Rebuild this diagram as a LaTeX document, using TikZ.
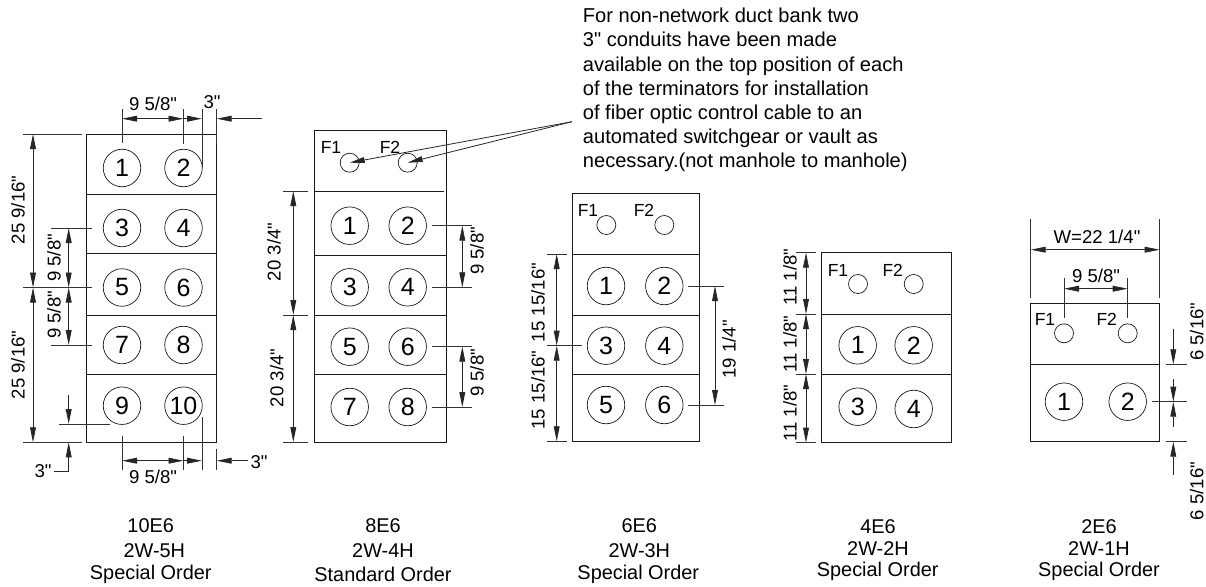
\documentclass[tikz,border=0pt]{standalone}
\usepackage{fontspec}
\newfontfamily\drawfont{Liberation Sans}
\usetikzlibrary{arrows.meta}
\tikzset{
  >={Stealth[length=15pt,width=5.8pt,inset=0pt]},
  box/.style={line width=0.9pt, black!90},
  dim/.style={line width=0.8pt, black!85},
  ext/.style={line width=0.8pt, black!80},
  dimtext/.style={inner sep=0pt, font=\drawfont\fontsize{18.6}{18.6}\selectfont},
  capt/.style={inner sep=0pt, font=\drawfont\fontsize{19.9}{19.9}\selectfont},
  ftext/.style={inner sep=0pt, font=\drawfont\fontsize{17.5}{17.5}\selectfont},
  duct/.style={circle, draw, line width=0.7pt, black!90, text=black, minimum size=37.5pt, inner sep=0pt, font=\drawfont\fontsize{25}{25}\selectfont},
  fib/.style={circle, draw, line width=0.7pt, black!90, minimum size=19pt, inner sep=0pt},
}

\begin{document}
\begin{tikzpicture}[x=1pt,y=-1pt]
      \useasboundingbox (0,0) rectangle (1206,586);

      \draw [box] (86.7,134) rectangle (216.7,442.3);
      \foreach \y in {194,253.7,315,374} \draw [box] (86.7,\y) -- (216.7,\y);
      \foreach \n/\x/\y in {1/122/168,2/183.5/168,3/122/228,4/183.5/228,5/122/287.5,6/183.5/287.5,7/122/345,8/183.5/345,9/122/405.7,10/183.5/405.7}
        \node [duct] (a\n) at (\x,\y) {\n};
      \draw [ext] (122,109) -- (122,143);
      \draw [ext] (183.5,109) -- (183.5,143.5);
      \draw [ext] (202,109) -- (202,167);
      \draw [ext] (216.7,109) -- (216.7,144);
      \draw [dim, <->] (122,118.7) -- (183.5,118.7);
      \draw [dim, ->] (183.5,118.7) -- (202,118.7);
      \draw [dim, ->] (262,118.7) -- (216.7,118.7);
      \node [dimtext] (a95t) at (153,104) {9 5/8"};
      \node [dimtext] (a3t) at (212,102) {3"};
      \draw [ext] (23,134) -- (82,134);
      \draw [ext] (23,287.5) -- (92,287.5);
      \draw [ext] (23,442.3) -- (82,442.3);
      \draw [dim, <->] (33,134) -- (33,287.5);
      \draw [dim, <->] (33,287.5) -- (33,442.3);
      \node [dimtext, rotate=90] (a25t) at (18,210) {25 9/16"};
      \node [dimtext, rotate=90] (a25b) at (18,365) {25 9/16"};
      \draw [ext] (51,228) -- (92,228);
      \draw [ext] (51,345) -- (92,345);
      \draw [dim, <->] (68.7,228) -- (68.7,287.5);
      \draw [dim, <->] (68.7,287.5) -- (68.7,345);
      \node [dimtext, rotate=90] (a9t) at (54,258) {9 5/8"};
      \node [dimtext, rotate=90] (a9b) at (54,315) {9 5/8"};
      \draw [dim, ->] (68.7,395) -- (68.7,424);
      \draw [ext] (58.7,424) -- (110,424);
      \draw [dim, ->] (54,471) -- (68.7,471) -- (68.7,442.3);
      \node [dimtext] (a3l) at (43,471) {3"};
      \draw [ext] (122,435.7) -- (122,470);
      \draw [ext] (183.5,435.7) -- (183.5,470);
      \draw [ext] (202,417) -- (202,470);
      \draw [ext] (216.7,449) -- (216.7,470);
      \draw [dim, <->] (122,460.7) -- (183.5,460.7);
      \draw [dim, ->] (183.5,460.7) -- (202,460.7);
      \draw [dim, ->] (248,460.7) -- (216.7,460.7);
      \node [dimtext] (a95b) at (153,476.7) {9 5/8"};
      \node [dimtext] (a3r) at (259,462) {3"};
      \node [capt] (c1a) at (150.7,526) {10E6};
      \node [capt] (c1b) at (154.3,550.5) {2W-5H};
      \node [capt] (c1c) at (150.8,574) {Special Order};

      \draw [box] (314,130) rectangle (446,442);
      \draw [box] (314,191) -- (444,191);
      \foreach \y in {255.3,315,374} \draw [box] (314,\y) -- (446,\y);
      \foreach \n/\x/\y in {1/349.7/225.7,2/407.7/225.7,3/349.7/287.3,4/407.7/287.3,5/349.7/346.7,6/407.7/346.7,7/349.7/407,8/407.7/407}
        \node [duct] (b\n) at (\x,\y) {\n};
      \node [fib] (bf1) at (349.7,162.7) {};
      \node [fib] (bf2) at (407.7,162.7) {};
      \node [ftext] (bf1t) at (331,147.7) {F1};
      \node [ftext] (bf2t) at (390,147.7) {F2};
      \draw [ext] (283,191) -- (308,191);
      \draw [ext] (283,315) -- (308,315);
      \draw [ext] (283,442) -- (308,442);
      \draw [dim, <->] (293.3,191) -- (293.3,315);
      \draw [dim, <->] (293.3,315) -- (293.3,442);
      \node [dimtext, rotate=90] (b20t) at (274,252) {20 3/4"};
      \node [dimtext, rotate=90] (b20b) at (276.7,378) {20 3/4"};
      \draw [ext] (431.7,225.7) -- (472,225.7);
      \draw [ext] (431.7,287.3) -- (472,287.3);
      \draw [ext] (431.7,346.7) -- (472,346.7);
      \draw [ext] (431.7,407) -- (472,407);
      \draw [dim, <->] (462.3,225.7) -- (462.3,287.3);
      \draw [dim, <->] (462.3,346.7) -- (462.3,407);
      \node [dimtext, rotate=90] (b9t) at (477,251) {9 5/8"};
      \node [dimtext, rotate=90] (b9b) at (477,373) {9 5/8"};
      \coordinate (apex) at (572,121.7);
      \draw [dim, ->] (apex) -- (bf1.center);
      \draw [dim, ->] (apex) -- (bf2.center);
      \node [capt] (c2a) at (383,526) {8E6};
      \node [capt] (c2b) at (383,550.5) {2W-4H};
      \node [capt] (c2c) at (383,574) {Standard Order};

      \node [inner sep=0pt, anchor=north west, align=left, font=\drawfont\fontsize{20.1}{24.2}\selectfont] (note) at (582.7,8) {For non-network duct bank two\\3" conduits have been made\\available on the top position of each\\of the terminators for installation\\of fiber optic control cable to an\\automated switchgear or vault as\\necessary.(not manhole to manhole)};

      \draw [box] (572.3,193.3) rectangle (699.3,441.3);
      \foreach \y in {254,315,374} \draw [box] (572.3,\y) -- (699.3,\y);
      \foreach \n/\x/\y in {1/606/286,2/664.3/286,3/606/345.7,4/664.3/345.7,5/606/405,6/664.3/405}
        \node [duct] (c\n) at (\x,\y) {\n};
      \node [fib] (cf1) at (606.3,225) {};
      \node [fib] (cf2) at (664.3,225) {};
      \node [ftext] (cf1t) at (588,210) {F1};
      \node [ftext] (cf2t) at (644,210) {F2};
      \draw [ext] (546.7,254) -- (566.7,254);
      \draw [ext] (546.7,345.7) -- (582,345.7);
      \draw [ext] (546.7,441.3) -- (566.7,441.3);
      \draw [dim, <->] (556.7,254) -- (556.7,345.7);
      \draw [dim, <->] (556.7,345.7) -- (556.7,441.3);
      \node [dimtext, rotate=90] (c15t) at (538,302.5) {15 15/16"};
      \node [dimtext, rotate=90] (c15b) at (538,390) {15 15/16"};
      \draw [ext] (688.3,286) -- (724.3,286);
      \draw [ext] (688.3,405) -- (724.3,405);
      \draw [dim, <->] (715,286) -- (715,405);
      \node [dimtext, rotate=90] (c19) at (729,349.5) {19 1/4"};
      \node [capt] (c3a) at (639.3,526) {6E6};
      \node [capt] (c3b) at (639.3,550.5) {2W-3H};
      \node [capt] (c3c) at (638.3,574) {Special Order};

      \draw [box] (821,252.7) rectangle (951,442.7);
      \foreach \y in {314,374} \draw [box] (821,\y) -- (951,\y);
      \foreach \n/\x/\y in {1/857.7/345.3,2/913.7/345.3,3/857.7/406.7,4/913.7/409}
        \node [duct] (d\n) at (\x,\y) {\n};
      \node [fib] (df1) at (858,284) {};
      \node [fib] (df2) at (913.7,284) {};
      \node [ftext] (df1t) at (838,270.7) {F1};
      \node [ftext] (df2t) at (892.7,270.7) {F2};
      \foreach \y in {252.7,314,374,442.7} \draw [ext] (796,\y) -- (815.7,\y);
      \draw [dim, <->] (806,252.7) -- (806,314);
      \draw [dim, <->] (806,314) -- (806,374);
      \draw [dim, <->] (806,374) -- (806,442.7);
      \node [dimtext, rotate=90] (d11a) at (790,277) {11 1/8"};
      \node [dimtext, rotate=90] (d11b) at (790,344) {11 1/8"};
      \node [dimtext, rotate=90] (d11c) at (790,413) {11 1/8"};
      \node [capt] (c4a) at (878,527) {4E6};
      \node [capt] (c4b) at (878,549) {2W-2H};
      \node [capt] (c4c) at (877.7,571.7) {Special Order};

      \draw [box] (1030.7,303.3) rectangle (1159.7,441.7);
      \draw [box] (1030.7,364.3) -- (1159.7,364.3);
      \node [duct] (e1) at (1064,401.7) {1};
      \node [duct] (e2) at (1127.7,401.7) {2};
      \node [fib] (ef1) at (1064,333.3) {};
      \node [fib] (ef2) at (1127.7,333.3) {};
      \node [ftext] (ef1t) at (1045,319.3) {F1};
      \node [ftext] (ef2t) at (1106.7,319.3) {F2};
      \draw [ext] (1030.7,219.3) -- (1030.7,297.7);
      \draw [ext] (1159.7,219.3) -- (1159.7,297.7);
      \draw [dim, <->] (1030.7,249.7) -- (1159.7,249.7);
      \node [dimtext] (ew) at (1097,236.7) {W=22 1/4"};
      \draw [ext] (1064,278.3) -- (1064,318.3);
      \draw [ext] (1127.7,278.3) -- (1127.7,318.3);
      \draw [dim, <->] (1064,288.7) -- (1127.7,288.7);
      \node [dimtext] (e95) at (1096,276) {9 5/8"};
      \draw [dim, ->] (1173.3,329.3) -- (1173.3,364.3);
      \draw [ext] (1165.7,364.3) -- (1186.7,364.3);
      \draw [dim, ->] (1173.3,379) -- (1173.3,401.7);
      \draw [dim, ->] (1173.3,427.3) -- (1173.3,401.7);
      \draw [ext] (1151.7,401.7) -- (1186.7,401.7);
      \draw [ext] (1165.7,441.7) -- (1186.7,441.7);
      \draw [dim, ->] (1173.3,475) -- (1173.3,441.7);
      \node [dimtext, rotate=90] (e6t) at (1196.7,331.7) {6 5/16"};
      \node [dimtext, rotate=90] (e6b) at (1196.7,491) {6 5/16"};
      \node [capt] (c5a) at (1099,527) {2E6};
      \node [capt] (c5b) at (1099,549) {2W-1H};
      \node [capt] (c5c) at (1099,571.7) {Special Order};
    \end{tikzpicture}
\end{document}
